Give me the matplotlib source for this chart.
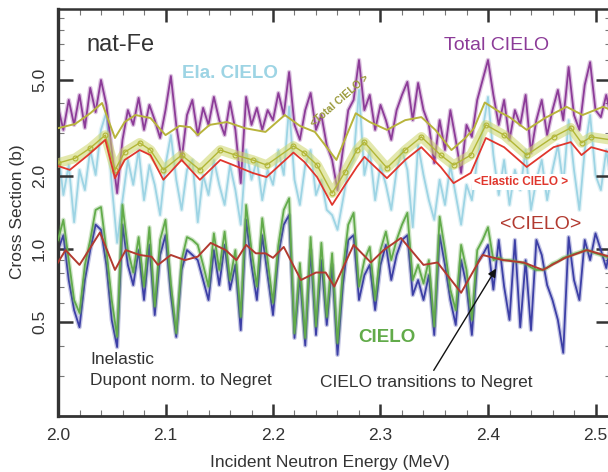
import numpy as np
import matplotlib
matplotlib.use("Agg")
import matplotlib.pyplot as plt
from matplotlib.ticker import LogLocator, NullFormatter, MultipleLocator

# shared energy grid (MeV) for the noisy pointwise curves
energy = np.arange(2.0, 2.5175, 0.005)

# total CIELO (b)
total_cielo = [3.86, 3.10, 4.12, 3.25, 4.32, 3.16, 4.62, 3.67, 4.98, 3.93,
               2.56, 1.70, 2.82, 3.74, 3.25, 4.20, 3.10, 3.93, 3.40, 2.87,
               3.74, 5.17, 3.25, 2.33, 3.57, 4.12, 2.95, 3.82, 3.25, 4.24,
               3.40, 2.95, 4.04, 3.10, 1.87, 4.24, 3.25, 3.82, 3.10, 3.74,
               3.40, 4.40, 3.57, 5.37, 3.25, 2.82, 3.74, 4.40, 3.10, 3.57,
               2.68, 2.33, 1.75, 2.56, 3.74, 4.12, 6.02, 3.74, 4.32, 3.10,
               3.93, 3.40, 2.82, 3.74, 4.32, 4.89, 3.40, 4.84, 3.74, 3.25,
               2.26, 3.40, 2.56, 3.74, 2.82, 2.06, 3.25, 2.90, 4.12, 4.98,
               6.02, 4.32, 3.25, 4.12, 2.82, 3.74, 3.25, 4.32, 2.49, 3.40,
               4.12, 2.95, 3.74, 4.53, 3.40, 5.63, 3.57, 3.10, 4.75, 5.90,
               3.74, 3.50, 4.32, 3.40]

# elastic CIELO (b)
elastic_cielo = [2.56, 1.67, 2.22, 1.29, 2.12, 1.75, 2.56, 2.02, 3.10, 3.67,
                 1.84, 1.06, 1.59, 2.33, 1.84, 2.56, 1.59, 2.22, 1.84, 1.38,
                 2.22, 2.95, 1.93, 1.45, 2.12, 2.33, 1.29, 2.02, 1.67, 2.33,
                 1.84, 1.52, 2.22, 1.75, 1.26, 2.56, 1.93, 2.33, 1.59, 2.12,
                 1.84, 2.56, 2.02, 3.86, 1.93, 1.52, 2.22, 2.56, 1.67, 1.93,
                 1.45, 1.38, 1.20, 1.59, 2.12, 2.33, 4.53, 2.02, 2.56, 1.59,
                 2.22, 1.84, 1.45, 2.12, 2.56, 2.12, 1.23, 2.68, 2.02, 1.59,
                 1.32, 1.93, 1.52, 2.22, 1.67, 1.26, 1.84, 1.59, 2.33, 3.10,
                 4.24, 2.44, 1.67, 2.33, 1.52, 2.12, 1.75, 2.56, 1.45, 1.93,
                 2.33, 1.59, 2.12, 2.68, 1.84, 3.40, 2.12, 1.45, 2.56, 3.57,
                 2.02, 1.75, 2.56, 1.84]

# inelastic CIELO (b)
inel_cielo = [1.09, 1.32, 0.90, 0.616, 0.545, 0.86, 1.09, 1.45, 1.49, 0.99,
              0.616, 0.435, 1.52, 0.99, 0.80, 1.12, 0.70, 1.23, 0.58, 1.09,
              1.32, 0.72, 0.45, 0.90, 1.12, 1.09, 1.04, 0.86, 0.70, 1.16,
              0.82, 1.18, 0.745, 0.99, 0.525, 1.52, 0.99, 0.70, 1.34, 0.90,
              0.60, 1.04, 1.45, 1.62, 0.45, 0.875, 0.43, 1.12, 0.48, 1.06,
              0.525, 0.96, 0.41, 0.82, 1.26, 1.41, 0.70, 0.90, 1.02, 0.616,
              0.99, 1.18, 0.90, 1.09, 1.26, 1.41, 0.745, 0.86, 0.72, 0.90,
              0.48, 1.36, 0.99, 0.68, 0.56, 1.04, 0.82, 0.51, 0.99, 1.09,
              1.23, 0.90, 0.92, 0.90, 0.90, 0.89, 0.88, 0.87, 0.84, 0.82,
              0.82, 0.835, 0.87, 0.89, 0.92, 0.935, 0.955, 0.97, 0.99, 0.98,
              0.96, 0.945, 0.93, 0.92]

# inelastic Dupont normalised to Negret (b)
inel_dupont = [0.99, 1.14, 0.745, 0.56, 0.476, 0.745, 0.99, 1.26, 1.20, 0.86,
               0.51, 0.394, 1.26, 0.86, 0.71, 0.99, 0.616, 1.04, 0.534, 0.945,
               1.14, 0.646, 0.434, 0.82, 0.99, 0.945, 0.90, 0.745, 0.616, 0.99,
               0.71, 1.04, 0.68, 0.86, 0.463, 1.32, 0.86, 0.616, 1.14, 0.78,
               0.534, 0.945, 1.26, 1.38, 0.43, 0.78, 0.40, 0.99, 0.442, 0.90,
               0.486, 0.86, 0.366, 0.71, 1.09, 1.14, 0.616, 0.78, 0.86, 0.56,
               0.86, 1.04, 0.745, 0.945, 1.09, 1.14, 0.646, 0.745, 0.616, 0.78,
               0.442, 1.14, 0.86, 0.616, 0.486, 0.90, 0.71, 0.442, 0.88, 0.945,
               1.04, 0.68, 1.09, 0.70, 0.51, 1.09, 0.476, 0.90, 0.463, 1.09,
               0.945, 0.71, 0.616, 0.51, 0.373, 1.12, 0.745, 0.616, 1.09, 0.90,
               1.16, 0.99, 0.835, 1.09]

# <Total CIELO> averaged
tot_avg_e = [2.000, 2.016, 2.030, 2.041, 2.053, 2.062, 2.072, 2.086, 2.100, 2.113,
             2.123, 2.130, 2.141, 2.157, 2.174, 2.193, 2.211, 2.225, 2.239, 2.259,
             2.277, 2.290, 2.306, 2.323, 2.338, 2.351, 2.366, 2.379, 2.387, 2.397,
             2.411, 2.420, 2.436, 2.453, 2.473, 2.488, 2.507, 2.515]
tot_avg = [3.15, 3.28, 3.63, 4.00, 2.87, 3.34, 3.57, 3.47, 2.95, 3.22,
           3.18, 2.95, 3.25, 3.34, 3.15, 3.04, 3.57, 3.22, 3.04, 2.33,
           3.63, 3.34, 3.10, 3.40, 3.50, 3.10, 2.56, 2.87, 3.15, 4.02,
           3.67, 3.50, 3.10, 3.47, 3.86, 3.57, 3.86, 3.74]

# <Elastic CIELO> averaged
ela_avg_e = [2.000, 2.011, 2.028, 2.044, 2.053, 2.062, 2.076, 2.086, 2.098, 2.115,
             2.132, 2.151, 2.163, 2.181, 2.194, 2.219, 2.229, 2.241, 2.255, 2.267,
             2.278, 2.285, 2.306, 2.323, 2.338, 2.356, 2.368, 2.384, 2.398, 2.415,
             2.436, 2.461, 2.477, 2.487, 2.496, 2.514]
ela_avg = [2.20, 2.12, 2.44, 2.82, 1.96, 2.33, 2.56, 2.44, 1.93, 2.33,
           1.93, 2.33, 2.22, 2.06, 1.98, 2.50, 2.29, 1.98, 1.52, 1.84,
           2.18, 2.40, 1.96, 2.33, 2.63, 2.18, 1.87, 2.06, 2.87, 2.63,
           2.18, 2.63, 2.76, 2.44, 2.63, 2.50]

# averaged elastic data band
band_e = [2.000, 2.016, 2.030, 2.044, 2.053, 2.062, 2.076, 2.086, 2.098, 2.115,
          2.132, 2.151, 2.165, 2.181, 2.194, 2.219, 2.229, 2.241, 2.255, 2.267,
          2.278, 2.285, 2.306, 2.323, 2.338, 2.356, 2.368, 2.384, 2.398, 2.415,
          2.436, 2.461, 2.477, 2.487, 2.496, 2.514]
band = [2.26, 2.37, 2.61, 2.95, 2.12, 2.51, 2.74, 2.56, 2.12, 2.44,
        2.12, 2.56, 2.44, 2.33, 2.22, 2.66, 2.49, 2.22, 1.70, 2.08,
        2.56, 2.76, 2.16, 2.56, 2.90, 2.44, 2.22, 2.44, 3.25, 2.95,
        2.44, 2.90, 3.16, 2.74, 2.90, 2.82]

# <CIELO> inelastic averaged
inel_avg_e = [2.000, 2.007, 2.020, 2.039, 2.053, 2.063, 2.076, 2.087, 2.093, 2.105,
              2.118, 2.130, 2.142, 2.156, 2.166, 2.175, 2.184, 2.193, 2.200, 2.210,
              2.226, 2.240, 2.249, 2.257, 2.275, 2.291, 2.303, 2.319, 2.340, 2.353,
              2.375, 2.387, 2.395, 2.414, 2.433, 2.451, 2.472, 2.492, 2.513]
inel_avg = [0.88, 0.99, 0.86, 1.17, 0.82, 0.99, 0.945, 0.93, 0.86, 0.945,
            0.90, 0.93, 1.06, 0.99, 0.90, 1.04, 0.96, 0.96, 0.92, 1.02,
            0.745, 0.80, 0.80, 0.70, 1.04, 0.88, 0.99, 1.11, 0.86, 0.88,
            0.66, 0.82, 0.945, 0.90, 0.88, 0.82, 0.92, 0.99, 0.93]

x_ticks = [2.0, 2.1, 2.2, 2.3, 2.4, 2.5]
y_ticks = [0.5, 1.0, 2.0, 5.0]

plt.rcParams['font.family'] = ['Liberation Sans', 'DejaVu Sans']

W, H = 608, 472


def fpos(x, y):
    ''' pixel position (from top left) to figure fraction '''
    return x / W, 1 - y / H


def noisy(ax, x, y, color, z):
    ''' a noisy curve: soft halo under a thin core line '''
    ax.plot(x, y, color=color, lw=3.2, alpha=0.3, zorder=z,
            solid_joinstyle="round")
    ax.plot(x, y, color=color, lw=1.3, zorder=z, solid_joinstyle="round")


fig = plt.figure(figsize=(6.08, 4.72), dpi=100)
ax = fig.add_axes([58 / W, 1 - 416 / H, 553 / W, 407 / H])

noisy(ax, energy, elastic_cielo, "#9dd4e4", 1)
noisy(ax, energy, total_cielo, "#8c3b98", 2)
ax.plot(band_e, band, color="#cdd66a", lw=7, alpha=0.55, zorder=3,
        solid_joinstyle="round")
ax.plot(band_e, band, color="#b2b636", lw=1.0, marker="o", ms=3.5,
        mfc="none", mec="#b2b636", mew=0.8, zorder=3)
ax.plot(tot_avg_e, tot_avg, color="#b8b43c", lw=1.4, zorder=3,
        solid_joinstyle="round")
ax.plot(ela_avg_e, ela_avg, color="#e0362d", lw=1.3, zorder=4,
        solid_joinstyle="round")

noisy(ax, energy, inel_dupont, "#3c3fa6", 2)
noisy(ax, energy, inel_cielo, "#62ab4a", 3)
ax.plot(inel_avg_e, inel_avg, color="#b23a30", lw=1.4, zorder=4,
        solid_joinstyle="round")

ax.set_yscale("log")
ax.set_xlim(2.0, 2.0 + 553 / 1075)
ax.set_ylim(0.2048, 9.77)

ax.set_xticks(x_ticks)
ax.set_xticklabels(["{:.1f}".format(v) for v in x_ticks])
ax.xaxis.set_minor_locator(MultipleLocator(0.02))
ax.set_yticks(y_ticks)
ax.set_yticklabels(["{:.1f}".format(v) for v in y_ticks], rotation=90, va="center")
ax.yaxis.set_minor_locator(LogLocator(base=10, subs=(2, 3, 4, 5, 6, 7, 8, 9)))
ax.yaxis.set_minor_formatter(NullFormatter())

ax.tick_params(axis="x", which="major", direction="in", length=9, width=1.8,
               top=True, labelsize=12.5, pad=9, colors="#333333")
ax.tick_params(axis="y", which="major", direction="in", length=11, width=1.8,
               right=True, labelsize=12.5, pad=8, colors="#333333")
ax.tick_params(which="minor", direction="in", length=4, width=0.8,
               top=True, right=True, colors="#777777")

for side in ["left", "bottom", "top", "right"]:
    ax.spines[side].set_color("#333333")
ax.spines["left"].set_linewidth(2.4)
ax.spines["bottom"].set_linewidth(2.0)
ax.spines["top"].set_linewidth(1.8)

fig.text(*fpos(330, 462), "Incident Neutron Energy (MeV)", ha="center",
         va="center", fontsize=12.5, color="#333333")
fig.text(*fpos(18, 212), "Cross Section (b)", ha="center", va="center",
         rotation=90, fontsize=12.5, color="#333333")

white = dict(facecolor="white", edgecolor="none", pad=1.5)
fig.text(*fpos(121, 45), "nat-Fe", ha="center", va="center", fontsize=17,
         color="#333333")
fig.text(*fpos(230, 73), "Ela. CIELO", ha="center", va="center", fontsize=13.5,
         fontweight="bold", color="#9dd4e4", bbox=white, zorder=6)
fig.text(*fpos(497, 46), "Total CIELO", ha="center", va="center", fontsize=14,
         color="#8c3b98")
fig.text(*fpos(340, 101), "<Total CIELO >", ha="center", va="center",
         fontsize=7.5, fontweight="bold", color="#9a9a3a", rotation=41)
fig.text(*fpos(521, 182), "<Elastic CIELO >", ha="center", va="center",
         fontsize=8.5, fontweight="bold", color="#e0362d", bbox=white, zorder=6)
fig.text(*fpos(541, 224), "<CIELO>", ha="center", va="center", fontsize=14,
         color="#b23a30", bbox=white, zorder=6)
fig.text(*fpos(387, 337), "CIELO", ha="center", va="center", fontsize=13.5,
         fontweight="bold", color="#62ab4a")
fig.text(*fpos(90, 359), "Inelastic", ha="left", va="center", fontsize=12.5,
         color="#333333")
fig.text(*fpos(90, 381), "Dupont norm. to Negret", ha="left", va="center",
         fontsize=12.5, color="#333333")

ax.annotate("CIELO transitions to Negret", xy=(2.4075, 0.83),
            xytext=fpos(426, 383), textcoords="figure fraction",
            ha="center", va="center", fontsize=12.5, color="#333333",
            arrowprops=dict(arrowstyle="-|>", color="#111111", lw=1.0,
                            mutation_scale=12, shrinkA=2, shrinkB=0))

fig.savefig("out.png", dpi=100)
